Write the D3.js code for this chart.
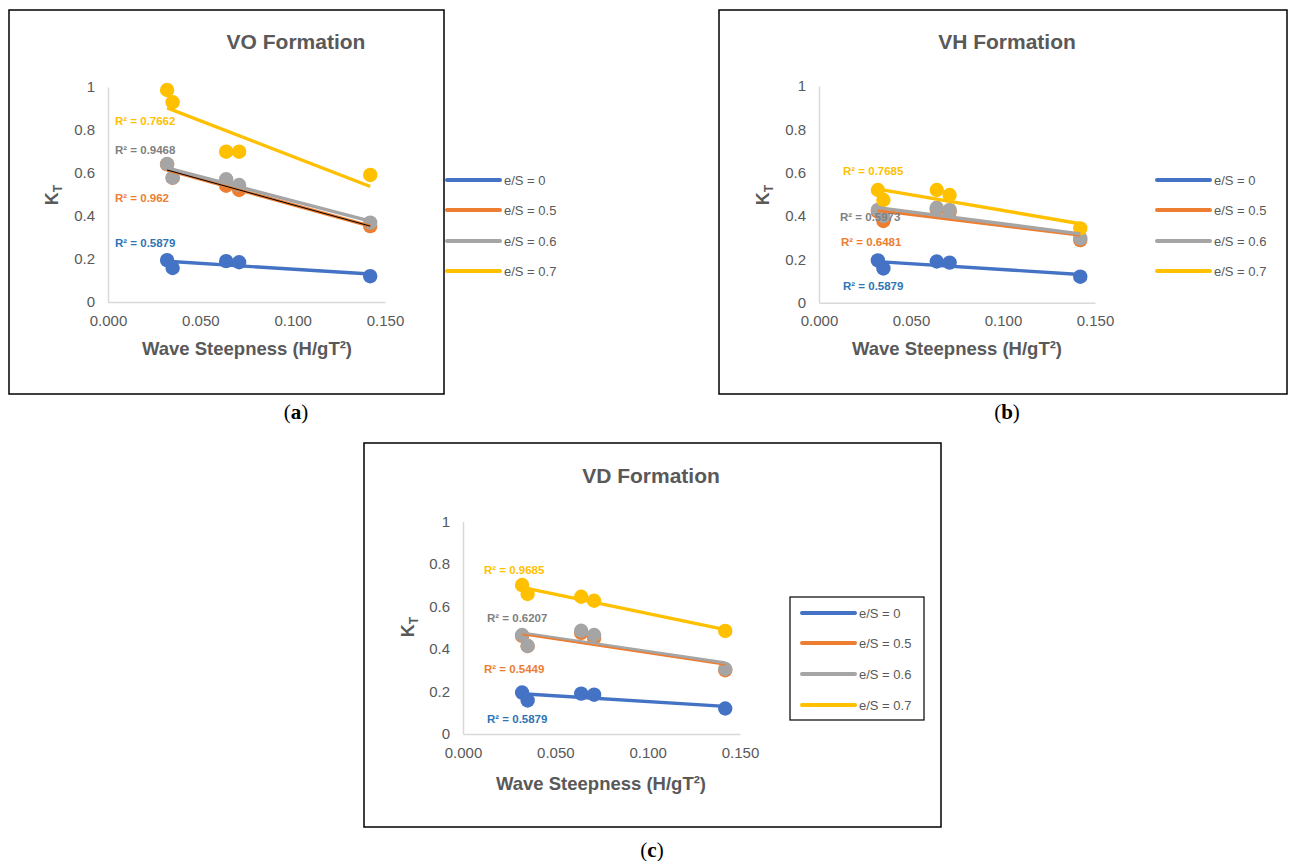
<!DOCTYPE html>
<html><head><meta charset="utf-8">
<script src="https://cdn.jsdelivr.net/npm/d3@7"></script>
<style>
html,body{margin:0;padding:0;background:#fff;}
svg{display:block;font-family:"Liberation Sans",Arial,sans-serif;}
</style></head>
<body><svg id="chart" width="1296" height="861"></svg>
<script>
// ---------- data ----------
const seriesNames = ["e/S = 0", "e/S = 0.5", "e/S = 0.6", "e/S = 0.7"];
const steepness = [0.032, 0.035, 0.064, 0.071, 0.142];
const xTicks = [0, 0.05, 0.1, 0.15];
const yTicks = [0, 0.2, 0.4, 0.6, 0.8, 1];

// VO formation
const voE0  = [0.195, 0.158, 0.190, 0.185, 0.120];
const voE05 = [0.640, 0.578, 0.541, 0.521, 0.353];
const voE06 = [0.642, 0.578, 0.571, 0.544, 0.369];
const voE07 = [0.986, 0.929, 0.699, 0.699, 0.591];
const voR2  = ["0.5879", "0.962", "0.9468", "0.7662"];

// VH formation
const vhE0  = [0.195, 0.158, 0.190, 0.185, 0.120];
const vhE05 = [0.420, 0.377, 0.430, 0.420, 0.289];
const vhE06 = [0.428, 0.400, 0.438, 0.428, 0.297];
const vhE07 = [0.520, 0.474, 0.520, 0.497, 0.343];
const vhR2  = ["0.5879", "0.6481", "0.5973", "0.7685"];

// VD formation
const vdE0  = [0.195, 0.158, 0.190, 0.185, 0.120];
const vdE05 = [0.462, 0.414, 0.476, 0.452, 0.300];
const vdE06 = [0.466, 0.414, 0.486, 0.466, 0.306];
const vdE07 = [0.701, 0.659, 0.646, 0.627, 0.485];
const vdR2  = ["0.5879", "0.5449", "0.6207", "0.9685"];

const titles = ["VO Formation", "VH Formation", "VD Formation"];
const captions = ["a", "b", "c"];

// ---------- styles ----------
const colors = ["#4472C4", "#ED7D31", "#A5A5A5", "#FFC000"];
const r2Colors = ["#2E75B6", "#ED7D31", "#7F7F7F", "#FFC000"];
const txt = "#595959";

const panels = [
  { data:[voE0,voE05,voE06,voE07], r2:voR2, title:titles[0], cap:captions[0],
    box:[9,10,444,394], x0:108, x1:385, y0:302, y1:87,
    r2Pos:[[115,243],[115,198],[115,150],[115,121]],
    leg:{x1:447,x2:500,ys:[180,210,241,271],frame:null}, orangeW:3.2, black:true, orangeTop:false,
    titleX:296, titleY:49, kx:58, ky:195, xlabX:247, xlabY:355, capX:296, capY:419 },
  { data:[vhE0,vhE05,vhE06,vhE07], r2:vhR2, title:titles[1], cap:captions[1],
    box:[719,10,1287,394], x0:819, x1:1095, y0:302.7, y1:86,
    r2Pos:[[843,286],[841,242],[840,217],[843,171]],
    leg:{x1:1157,x2:1210,ys:[180,210,241,271],frame:null}, orangeW:3.2, black:false, orangeTop:false,
    titleX:1007, titleY:49, kx:769, ky:195, xlabX:957, xlabY:355, capX:1007, capY:419 },
  { data:[vdE0,vdE05,vdE06,vdE07], r2:vdR2, title:titles[2], cap:captions[2],
    box:[364,443,941,827], x0:463, x1:740, y0:734, y1:521.5,
    r2Pos:[[487,719],[484,669],[487,618],[484,570]],
    leg:{x1:802,x2:855,ys:[613,643,674,705],frame:[790,597,924,720]}, orangeW:1.6, black:false, orangeTop:true,
    titleX:651, titleY:483, kx:414, ky:627, xlabX:601, xlabY:790, capX:652, capY:857 }
];

const svg = d3.select("#chart");

function linReg(xs, ys){
  const mx = d3.mean(xs), my = d3.mean(ys);
  let sxy = 0, sxx = 0;
  xs.forEach((x,i)=>{ sxy += (x-mx)*(ys[i]-my); sxx += (x-mx)*(x-mx); });
  const b = sxy/sxx, a = my - b*mx;
  return x => a + b*x;
}

panels.forEach(p => {
  const g = svg.append("g");
  const [bx0,by0,bx1,by1] = p.box;
  g.append("rect").attr("x",bx0).attr("y",by0).attr("width",bx1-bx0).attr("height",by1-by0)
    .attr("fill","#fff").attr("stroke","#000").attr("stroke-width",1.5);

  const x = d3.scaleLinear().domain([0,0.15]).range([p.x0,p.x1]);
  const y = d3.scaleLinear().domain([0,1]).range([p.y0,p.y1]);

  // axes
  const xAxis = d3.axisBottom(x).tickValues(xTicks).tickSize(0).tickPadding(13).tickFormat(d3.format(".3f"));
  const yAxis = d3.axisLeft(y).tickValues(yTicks).tickSize(0).tickPadding(13).tickFormat(d => d === 0 ? "0" : d === 1 ? "1" : d3.format(".1f")(d));
  const gx = g.append("g").attr("transform",`translate(0,${p.y0})`).call(xAxis);
  const gy = g.append("g").attr("transform",`translate(${p.x0},0)`).call(yAxis);
  [gx,gy].forEach(a => {
    a.select(".domain").attr("stroke","#D9D9D9").attr("stroke-width",1.5);
    a.selectAll("text").attr("fill",txt).attr("font-size",15).attr("font-family","Liberation Sans, Arial, sans-serif");
  });

  // markers
  p.data.forEach((vals,si) => {
    g.append("g").selectAll("circle").data(vals).join("circle")
      .attr("cx",(d,i)=>x(steepness[i])).attr("cy",d=>y(d)).attr("r",7.2)
      .attr("fill",colors[si]);
  });
  // trendlines
  const xmin = d3.min(steepness), xmax = d3.max(steepness);
  const line = d3.line().x(d=>x(d[0])).y(d=>y(d[1]));
  p.data.forEach((vals,si) => {
    const f = linReg(steepness, vals);
    const pts = [[xmin,f(xmin)],[xmax,f(xmax)]];
    g.append("path").attr("class", si===1 ? "tr-orange" : "tr").attr("d",line(pts)).attr("fill","none")
      .attr("stroke",colors[si]).attr("stroke-width", si===1 ? p.orangeW : 3.4);
    if (si===1 && p.black) {
      g.append("path").attr("class","blk").attr("d",line(pts)).attr("fill","none")
        .attr("stroke","#000").attr("stroke-width",1);
    }
  });
  if (p.orangeTop) g.selectAll("path.tr-orange").raise();
  g.selectAll("path.blk").raise();

  // R² labels
  p.r2.forEach((v,si) => {
    g.append("text").attr("x",p.r2Pos[si][0]).attr("y",p.r2Pos[si][1]).attr("dy","0.35em")
      .attr("fill",r2Colors[si]).attr("font-size",11.5).attr("font-weight","bold")
      .text("R² = " + v);
  });

  // title
  g.append("text").attr("x",p.titleX).attr("y",p.titleY).attr("text-anchor","middle")
    .attr("fill",txt).attr("font-size",21).attr("font-weight","bold").text(p.title);

  // y label
  const yl = g.append("text").attr("transform",`translate(${p.kx},${p.ky}) rotate(-90)`)
    .attr("text-anchor","middle").attr("fill",txt).attr("font-size",18).attr("font-weight","bold");
  yl.append("tspan").text("K");
  yl.append("tspan").attr("font-size",12).attr("dy",4).text("T");

  // x label
  g.append("text").attr("x",p.xlabX).attr("y",p.xlabY).attr("text-anchor","middle")
    .attr("fill",txt).attr("font-size",18.5).attr("font-weight","bold").text("Wave Steepness (H/gT²)");

  // legend
  if (p.leg.frame) {
    const [fx0,fy0,fx1,fy1] = p.leg.frame;
    g.append("rect").attr("x",fx0).attr("y",fy0).attr("width",fx1-fx0).attr("height",fy1-fy0)
      .attr("fill","#fff").attr("stroke","#000").attr("stroke-width",1.2);
  }
  seriesNames.forEach((nm,si) => {
    const ly = p.leg.ys[si];
    g.append("line").attr("x1",p.leg.x1).attr("x2",p.leg.x2).attr("y1",ly).attr("y2",ly)
      .attr("stroke",colors[si]).attr("stroke-width",4).attr("stroke-linecap","round");
    g.append("text").attr("x",p.leg.x2+4).attr("y",ly).attr("dy","0.35em")
      .attr("fill",txt).attr("font-size",13).text(nm);
  });

  // caption
  const c = svg.append("text").attr("x",p.capX).attr("y",p.capY).attr("text-anchor","middle")
    .attr("font-family","Liberation Serif, serif").attr("font-size",21).attr("fill","#000");
  c.append("tspan").text("(");
  c.append("tspan").attr("font-weight","bold").text(p.cap);
  c.append("tspan").text(")");
});
</script></body></html>
